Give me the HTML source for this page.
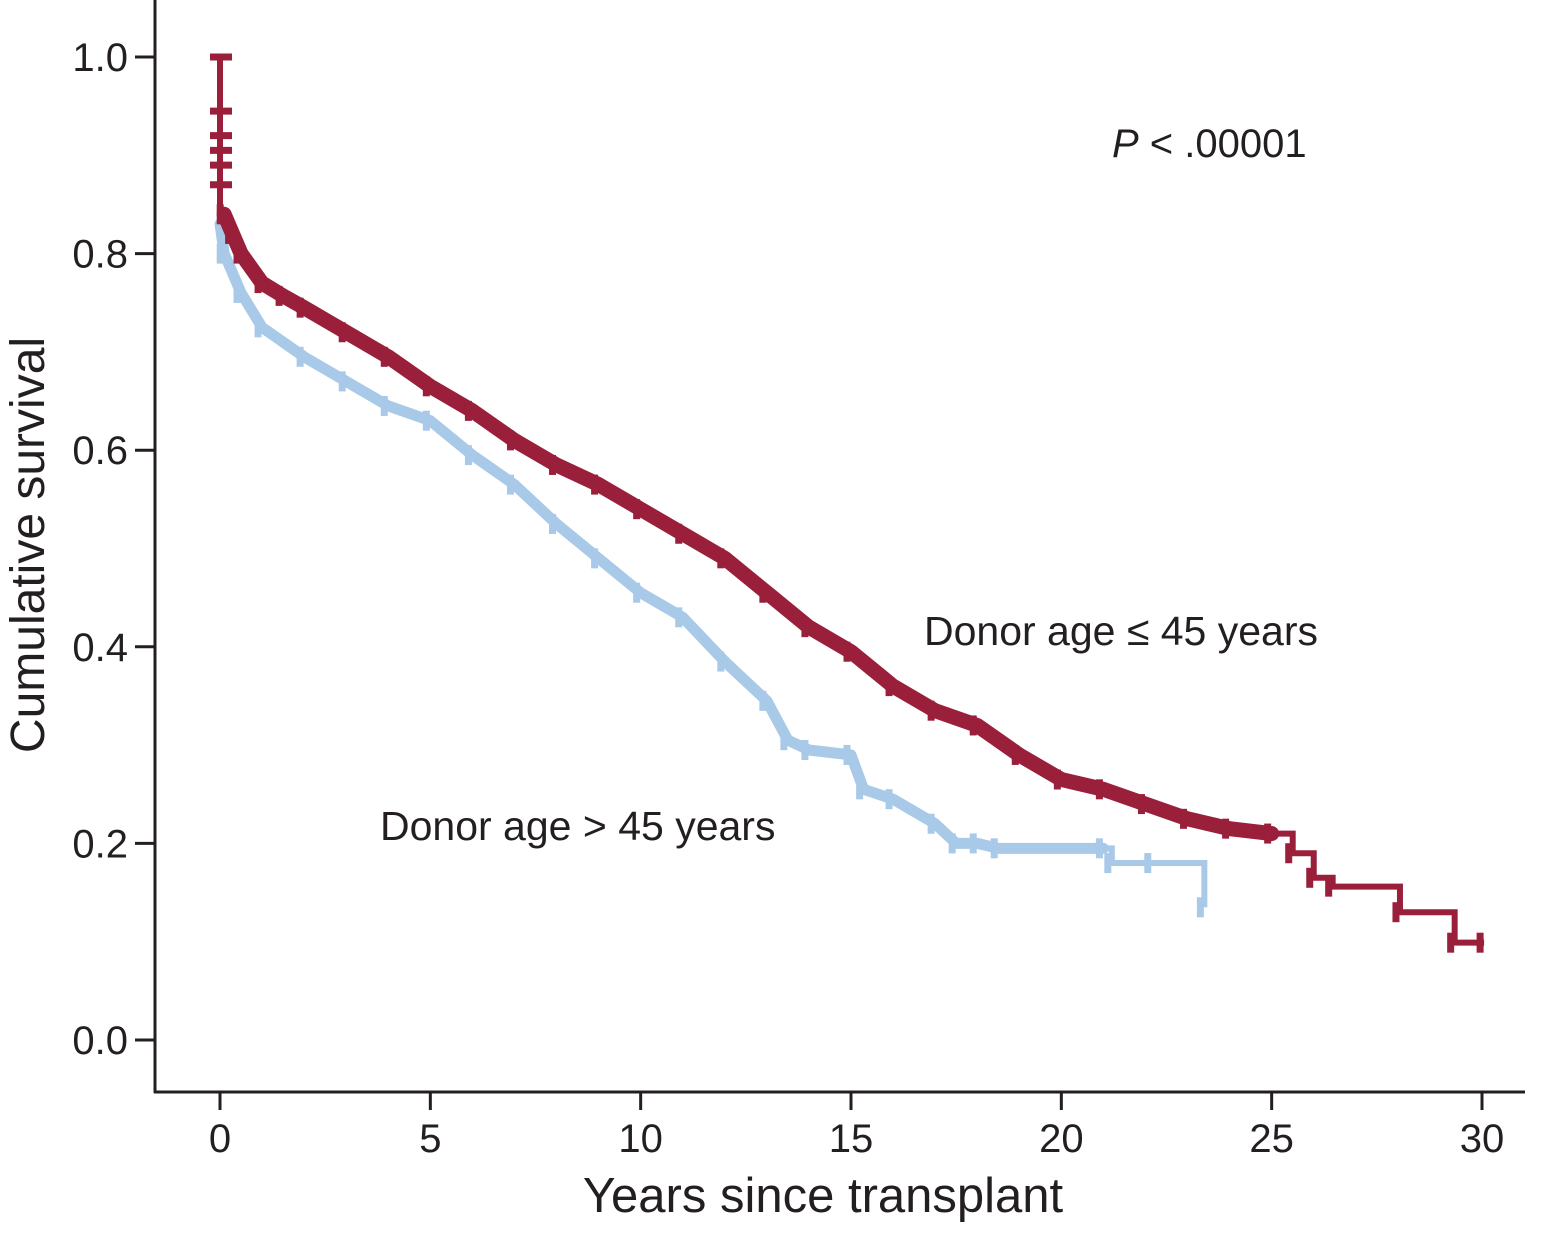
<!DOCTYPE html>
<html><head><meta charset="utf-8"><style>
html,body{margin:0;padding:0;background:#fff;}
svg text{font-family:"Liberation Sans",Arial,sans-serif;fill:#231f20;}
</style></head><body>
<svg id="chart" width="1550" height="1230" viewBox="0 0 1550 1230" xmlns="http://www.w3.org/2000/svg">
<g id="axes"></g>
<g id="series"></g>
<text x="1112" y="157" font-size="40"><tspan font-style="italic">P</tspan> &lt; .00001</text>
<text x="924" y="645" font-size="41">Donor age ≤ 45 years</text>
<text x="380" y="840" font-size="41">Donor age &gt; 45 years</text>
<text x="823" y="1212" font-size="49" text-anchor="middle">Years since transplant</text>
<text x="0" y="0" font-size="48" text-anchor="middle" transform="translate(44,545) rotate(-90)">Cumulative survival</text>
</svg>
<script>
const xTicks=[0,5,10,15,20,25,30];
const yTicks=[0.0,0.2,0.4,0.6,0.8,1.0];
const yTickLabels=["0.0","0.2","0.4","0.6","0.8","1.0"];
const redTimes=[0,0.05,0.1,0.3,0.5,1,1.5,2,3,4,5,6,7,8,9,10,11,12,13,14,15,16,17,18,19,20,21,22,23,24,25,25.5,26,26.45,28.05,29.35,30.05];
const redSurv=[1.0,0.87,0.84,0.82,0.80,0.77,0.757,0.745,0.72,0.695,0.665,0.64,0.61,0.585,0.565,0.54,0.515,0.49,0.455,0.42,0.395,0.36,0.335,0.32,0.29,0.265,0.255,0.24,0.225,0.215,0.21,0.19,0.165,0.156,0.13,0.099,0.099];
const blueTimes=[0,0.1,0.5,1,2,3,4,5,6,7,8,9,10,11,12,13,13.5,14,15,15.3,16,17,17.5,18,18.5,21,21.2,22.15,23.4];
const blueSurv=[0.83,0.80,0.76,0.725,0.695,0.67,0.645,0.63,0.595,0.565,0.525,0.49,0.455,0.43,0.385,0.345,0.305,0.295,0.29,0.255,0.245,0.22,0.2,0.2,0.195,0.195,0.18,0.18,0.135];
const NS='http://www.w3.org/2000/svg';
const X=t=>220+t*(1482-220)/30;
const Y=s=>1040-s*(1040-57);
const axes=document.getElementById('axes');
function mk(tag,attrs,parent){const e=document.createElementNS(NS,tag);for(const k in attrs)e.setAttribute(k,attrs[k]);parent.appendChild(e);return e;}
const ya=mk('line',{x1:155,y1:0,x2:155,y2:1093,stroke:'#231f20','stroke-width':3},axes);


const xa=mk('line',{x1:154,y1:1092,x2:1525,y2:1092,stroke:'#231f20','stroke-width':3},axes);


xTicks.forEach(t=>{
 const l=mk('line',{x1:X(t),y1:1092,x2:X(t),y2:1110,stroke:'#231f20','stroke-width':3},axes);
 
 
 const tx=mk('text',{x:X(t),y:1152,'font-size':40,'text-anchor':'middle'},axes);tx.textContent=t;
 
 
});
yTicks.forEach((v,i)=>{
 const l=mk('line',{x1:135,y1:Y(v),x2:155,y2:Y(v),stroke:'#231f20','stroke-width':3},axes);
 
 
 const tx=mk('text',{x:128,y:Y(v)+14,'font-size':40,'text-anchor':'end'},axes);tx.textContent=yTickLabels[i];
 
 
});
const series=document.getElementById('series');
function stepPath(ts,ss,start){let d='M'+X(ts[start])+','+Y(ss[start]);for(let i=start+1;i<ts.length;i++){d+=' H'+X(ts[i])+' V'+Y(ss[i]);}return d;}
function smoothPath(ts,ss,from,to){let d='';for(let i=from;i<=to;i++){d+=(i>from?' L':'M')+X(ts[i])+','+Y(ss[i]);}return d;}
function draw(ts,ss,color,name,thickFrom,thickTo,w,censorFrom){
 const g=mk('g',{},series);
 
 
 const i0=ts.findIndex(t=>t>=thickFrom);
 let i1=ts.length-1;for(let i=0;i<ts.length;i++){if(ts[i]<=thickTo)i1=i;}
 // initial segment before band (step)
 if(i0>0){
  const p0=mk('path',{d:'M'+X(ts[0])+','+Y(ss[0])+' V'+Y(ss[i0]),fill:'none',stroke:color,'stroke-width':6},g);
  
  
 }
 const p2=mk('path',{d:smoothPath(ts,ss,i0,i1),fill:'none',stroke:color,'stroke-width':w,'stroke-linejoin':'round','stroke-linecap':'round'},g);
 
 
 const p=mk('path',{d:stepPath(ts,ss,i1),fill:'none',stroke:color,'stroke-width':6},g);
 
 
 ts.forEach((t,i)=>{
  if(i===0||t<censorFrom)return;
  const c=mk('line',{x1:X(t)-4,y1:Y(ss[i])-10,x2:X(t)-4,y2:Y(ss[i])+10,stroke:color,'stroke-width':7},g);
  
  
 });
}
draw(blueTimes,blueSurv,'#a8c9e8','series-donor-gt-45',0,21,11,0);
draw(redTimes,redSurv,'#9a1f3a','series-donor-le-45',0.1,25,15,0.1);
[1.0,0.945,0.92,0.905,0.89,0.87].forEach(v=>{
 const c=mk('line',{x1:X(0)-10,y1:Y(v),x2:X(0)+12,y2:Y(v),stroke:'#9a1f3a','stroke-width':7},series);
 
 
});
</script>
</body></html>
